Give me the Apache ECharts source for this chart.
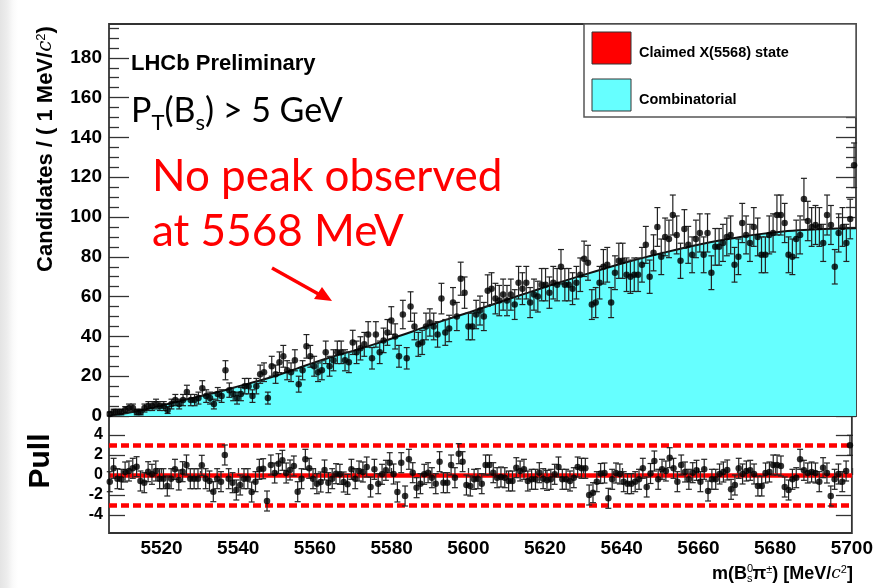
<!DOCTYPE html>
<html>
<head>
<meta charset="utf-8">
<script src="https://cdn.jsdelivr.net/npm/echarts@6/dist/echarts.min.js"></script>
<style>
html,body{margin:0;padding:0;}
body{width:876px;height:588px;background:linear-gradient(90deg,#e4e4e4 0px,#ededed 7px,#fafafa 13px,#ffffff 18px);}
#c{width:876px;height:588px;}
</style>
</head>
<body>
<div id="c"></div>
<script>
// ---------- data ----------
const binStart = 5506;      // lower edge of first 1 MeV bin
const binWidth = 1;
const counts = [
 1,2,2,2,3,4,4,2,2,4,5,5,6,5,5,3,6,8,6,8,12,8,8,9,14,10,9,6,11,10,23,13,11,9,11,15,15,10,15,21,22,9,25,21,27,30,23,22,28,16,23,35,30,25,22,23,32,25,28,32,32,28,27,37,32,
 34,36,41,29,41,32,38,42,48,40,30,51,29,55,45,36,37,45,47,45,41,59,42,44,57,50,69,62,45,45,51,53,50,63,64,59,58,61,58,61,56,67,64,67,57,61,60,66,66,62,67,66,75,66,66,64,67,71,79,77,56,57,67,75,76,
 57,72,78,78,71,70,71,71,76,86,70,82,95,80,90,89,101,91,78,94,86,81,89,92,81,92,72,85,85,87,90,91,76,80,97,91,87,95,90,81,81,91,92,101,101,97,81,80,89,91,109,98,95,96,95,87,101,96,75,92,95,87,99,126
];
const pulls = [
 -0.67,0.67,-0.37,-0.43,0.3,0.4,0.67,0.83,-0.6,-0.77,0.33,0.07,0.4,-0.37,-0.37,-1.1,-0.37,0.57,-0.5,0.33,1.0,-0.37,-0.37,-0.37,0.97,-0.37,-0.6,-1.67,-0.37,-0.67,2.0,-0.37,-0.77,-1.5,-1.0,-0.37,-0.37,-1.7,-0.67,0.57,0.63,-2.6,1.0,0.2,1.13,1.47,0.2,0.5,0.9,-1.67,
 -0.37,1.57,0.67,-0.37,-0.87,-0.7,0.5,-0.77,-0.37,0.13,0.07,-0.7,-0.93,0.57,-0.37,0.4,0.3,0.8,-1.2,0.57,-0.87,0.07,0.47,1.23,0.1,-1.7,1.23,-2.1,1.57,0.23,-1.27,-0.87,0.07,0.23,-0.27,-0.87,1.33,-0.77,-0.77,1.0,-0.27,2.13,1.33,-1.0,-1.1,-0.43,-0.37,-0.87,1.0,1.0,0.23,-0.27,-0.2,-0.27,-0.6,-0.6,0.73,0.4,0.57,-0.6,-0.43,-0.43,0.23,-0.37,-0.53,-0.43,0.07,0.8,-0.43,-0.43,-0.6,-0.27,
 0.8,0.67,0.67,-2.0,-1.77,-0.67,0.15,0.2,-2.33,-0.43,0.2,0.1,-0.67,-0.87,-0.87,-0.67,-0.43,0.67,-1.2,0.15,1.4,-0.43,0.57,0.4,1.73,0.67,-0.67,1.0,0.3,-0.43,0.23,0.47,-0.67,0.57,-1.6,-0.43,-0.43,0.1,0.3,0.5,-1.43,-1.0,0.67,0.1,0.4,0.47,0.1,-1.1,-1.1,0.2,0.3,1.0,1.0,0.9,-1.2,-1.5,-0.43,-0.27,1.57,0.47,0.2,0.3,0.2,-0.67,0.73,0.2,-2.1,-0.43,0.1,-0.67,0.4,2.97
];
const fitMass = [5506.3,5510,5515,5520,5525,5530,5535,5540,5545,5550,5555,5560,5565,5570,5575,5580,5585,5590,5595,5600,5605,5610,5615,5620,5625,5630,5635,5640,5645,5650,5655,5660,5665,5670,5675,5680,5685,5690,5695,5700];
const fitValue = [0,1.2,3,5.3,7.7,10.0,12.3,15,17.6,20.5,23.8,27.2,30.2,33,36,39.2,42.5,46,49.2,52.3,55.5,58.8,62,65.2,68.3,71.3,74.2,77,79.6,82,84.3,86.4,88.3,90,91.4,92.5,93.3,93.9,94.2,94.4];
const xTickLabels = [5520,5540,5560,5580,5600,5620,5640,5660,5680,5700];
const xMinorTicks = [5510,5530,5550,5570,5590,5610,5630,5650,5670,5690];
const yTickLabels = [0,20,40,60,80,100,120,140,160,180];
const yMinorTicks = [5,10,15,25,30,35,45,50,55,65,70,75,85,90,95,105,110,115,125,130,135,145,150,155,165,170,175,185,190,195];
const pullTickLabels = [-4,-2,0,2,4];
const pullBands = [0,3,-3];

// ---------- build ----------
const centers = counts.map((_, i) => binStart + binWidth * (i + 0.5));
const pts = counts.map((n, i) => [centers[i], n]);
const errs = counts.map((n, i) => [centers[i], Math.max(0, n - Math.sqrt(n)), n + Math.sqrt(n)]);
const pullPts = pulls.map((p, i) => [centers[i], p]);
const pullErrs = pulls.map((p, i) => [centers[i], p - 1, p + 1]);
const fitData = fitMass.map((m, i) => [m, fitValue[i]]);

const FONT = '"Liberation Sans", Arial, sans-serif';
const frameColor = '#333';

function errRender(params, api) {
  const x = api.value(0), lo = api.value(1), hi = api.value(2);
  const a = api.coord([x, hi]), b = api.coord([x, lo]);
  const w = 3;
  const st = {stroke: '#222', lineWidth: 1.2};
  return {type: 'group', children: [
    {type: 'line', shape: {x1: a[0], y1: a[1], x2: b[0], y2: b[1]}, style: st},
    {type: 'line', shape: {x1: a[0] - w, y1: a[1], x2: a[0] + w, y2: a[1]}, style: st},
    {type: 'line', shape: {x1: b[0] - w, y1: b[1], x2: b[0] + w, y2: b[1]}, style: st}
  ]};
}

const XMIN = 5506.3, XMAX = 5700;
const lblStyle = {fontFamily: FONT, fontWeight: 'bold', fontSize: 19, color: '#000'};
const plain = v => String(v);

const option = {
  backgroundColor: 'transparent',
  animation: false,
  grid: [
    {left: 109, top: 24, width: 747, height: 392, show: true, borderColor: frameColor, borderWidth: 1.8, backgroundColor: 'transparent'},
    {left: 109, top: 416, width: 747, height: 117, show: true, borderColor: frameColor, borderWidth: 1.8, backgroundColor: 'transparent'}
  ],
  xAxis: [
    {gridIndex: 0, type: 'value', min: XMIN, max: XMAX, axisLabel: {show: false}, axisTick: {show: false}, axisLine: {show: false}, splitLine: {show: false}},
    {gridIndex: 1, type: 'value', min: XMIN, max: XMAX, position: 'bottom',
      axisLabel: {show: true, customValues: xTickLabels, margin: 6, formatter: plain, ...lblStyle},
      axisTick: {show: true, inside: true, length: 7, customValues: xTickLabels, lineStyle: {color: frameColor, width: 1.3}},
      axisLine: {show: false}, splitLine: {show: false}},
    {gridIndex: 1, type: 'value', min: XMIN, max: XMAX, position: 'bottom',
      axisLabel: {show: false},
      axisTick: {show: true, inside: true, length: 4, customValues: xMinorTicks, lineStyle: {color: frameColor, width: 1.3}},
      axisLine: {show: false}, splitLine: {show: false}}
  ],
  yAxis: [
    {gridIndex: 0, type: 'value', min: 0, max: 197, position: 'left',
      axisLabel: {show: true, customValues: yTickLabels, margin: 7, formatter: plain, ...lblStyle},
      axisTick: {show: true, inside: true, length: 20, customValues: yTickLabels, lineStyle: {color: frameColor, width: 1.3}},
      axisLine: {show: false}, splitLine: {show: false}},
    {gridIndex: 0, type: 'value', min: 0, max: 197, position: 'left',
      axisLabel: {show: false},
      axisTick: {show: true, inside: true, length: 10, customValues: yMinorTicks, lineStyle: {color: frameColor, width: 1.3}},
      axisLine: {show: false}, splitLine: {show: false}},
    {gridIndex: 0, type: 'value', min: 0, max: 197, position: 'right',
      axisLabel: {show: false},
      axisTick: {show: true, inside: true, length: 20, customValues: yTickLabels, lineStyle: {color: frameColor, width: 1.3}},
      axisLine: {show: false}, splitLine: {show: false}},
    {gridIndex: 0, type: 'value', min: 0, max: 197, position: 'right',
      axisLabel: {show: false},
      axisTick: {show: true, inside: true, length: 10, customValues: yMinorTicks, lineStyle: {color: frameColor, width: 1.3}},
      axisLine: {show: false}, splitLine: {show: false}},
    {gridIndex: 1, type: 'value', min: -5.8, max: 5.9, position: 'left',
      axisLabel: {show: true, customValues: pullTickLabels, margin: 6, formatter: plain, fontFamily: FONT, fontWeight: 'bold', fontSize: 16, color: '#000'},
      axisTick: {show: true, inside: true, length: 16, customValues: pullTickLabels, lineStyle: {color: frameColor, width: 1.3}},
      axisLine: {show: false}, splitLine: {show: false}},
    {gridIndex: 1, type: 'value', min: -5.8, max: 5.9, position: 'right',
      axisLabel: {show: false},
      axisTick: {show: true, inside: true, length: 16, customValues: pullTickLabels, lineStyle: {color: frameColor, width: 1.3}},
      axisLine: {show: false}, splitLine: {show: false}}
  ],
  series: [
    {type: 'line', xAxisIndex: 0, yAxisIndex: 0, data: fitData, smooth: 0.4, showSymbol: false, z: 1,
      lineStyle: {color: '#111', width: 2}, areaStyle: {color: '#66ffff', opacity: 1}},
    {type: 'custom', xAxisIndex: 0, yAxisIndex: 0, data: errs, renderItem: errRender, z: 3},
    {type: 'scatter', xAxisIndex: 0, yAxisIndex: 0, data: pts, symbol: 'circle', symbolSize: 6.5, itemStyle: {color: '#000'}, z: 4},
    {type: 'custom', xAxisIndex: 1, yAxisIndex: 4, data: pullErrs, renderItem: errRender, z: 3,
      markLine: {silent: true, symbol: 'none', label: {show: false}, z: 2,
        data: pullBands.map(v => ({yAxis: v, lineStyle: {color: '#ff0000', width: 4.5, type: v === 0 ? 'solid' : [8, 4]}}))}},
    {type: 'scatter', xAxisIndex: 1, yAxisIndex: 4, data: pullPts, symbol: 'circle', symbolSize: 6.5, itemStyle: {color: '#000'}, z: 4}
  ],
  graphic: [
    // legend box
    {type: 'rect', shape: {x: 584, y: 24, width: 272, height: 93}, style: {fill: '#fff', stroke: '#555', lineWidth: 1.5}, z: 50},
    {type: 'rect', shape: {x: 592, y: 32, width: 39, height: 32}, style: {fill: '#ff0000', stroke: '#333', lineWidth: 1}, z: 51},
    {type: 'rect', shape: {x: 592, y: 79, width: 39, height: 32}, style: {fill: '#66ffff', stroke: '#333', lineWidth: 1}, z: 51},
    {type: 'text', x: 639, y: 53, z: 51, style: {text: 'Claimed X(5568) state', font: 'bold 14.5px ' + FONT, fill: '#000', textAlign: 'left', textVerticalAlign: 'middle'}},
    {type: 'text', x: 639, y: 100, z: 51, style: {text: 'Combinatorial', font: 'bold 14.5px ' + FONT, fill: '#000', textAlign: 'left', textVerticalAlign: 'middle'}},
    // annotations
    {type: 'text', x: 131, y: 64, z: 60, style: {text: 'LHCb Preliminary', font: 'bold 22px ' + FONT, fill: '#000', textAlign: 'left', textVerticalAlign: 'middle'}},
    {type: 'text', x: 131, y: 94, z: 60, style: {
      text: '{m|P}{s|T}{m|(B}{s|s}{m|) > 5 GeV}', textAlign: 'left', textVerticalAlign: 'top',
      rich: {m: {fontFamily: 'Lato', fontSize: 34, fill: '#000', lineHeight: 40, verticalAlign: 'top'},
             s: {fontFamily: 'Lato', fontSize: 22, fill: '#000', lineHeight: 40, verticalAlign: 'bottom', padding: [18, 0, 0, 0]}}}},
    {type: 'text', x: 152, y: 177, z: 60, style: {text: 'No peak observed', font: '44px Lato', fill: '#ff0000', textAlign: 'left', textVerticalAlign: 'middle'}},
    {type: 'text', x: 152, y: 232, z: 60, style: {text: 'at 5568 MeV', font: '44px Lato', fill: '#ff0000', textAlign: 'left', textVerticalAlign: 'middle'}},
    {type: 'line', shape: {x1: 272, y1: 268, x2: 322, y2: 296}, style: {stroke: '#ff0000', lineWidth: 3.5}, z: 60},
    {type: 'polygon', shape: {points: [[332, 301], [314, 299], [322, 287]]}, style: {fill: '#ff0000'}, z: 60},
    // axis titles
    {type: 'text', x: 46, y: 149, rotation: Math.PI / 2, z: 60, style: {
      text: '{b|Candidates / ( 1 MeV/}{i|c}{sup|2}{b|)}', textAlign: 'center', textVerticalAlign: 'middle',
      rich: {b: {fontFamily: FONT, fontWeight: 'bold', fontSize: 22, fill: '#000', lineHeight: 26},
             i: {fontFamily: 'DejaVu Serif', fontStyle: 'italic', fontSize: 20, fill: '#000', lineHeight: 26},
             sup: {fontFamily: FONT, fontSize: 13, fill: '#000', lineHeight: 26, padding: [0, 0, 9, 0]}}}},
    {type: 'text', x: 41, y: 461, rotation: Math.PI / 2, z: 60, style: {text: 'Pull', font: 'bold 30px ' + FONT, fill: '#000', textAlign: 'center', textVerticalAlign: 'middle'}},
    {type: 'text', x: 712, y: 574, z: 60, style: {
      text: '{b|m(B}{sub|s}{b|π}{sup|±}{b|) [MeV/}{i|c}{sup|2}{b|]}', textAlign: 'left', textVerticalAlign: 'middle',
      rich: {b: {fontFamily: FONT, fontWeight: 'bold', fontSize: 18, fill: '#000', lineHeight: 22},
             i: {fontFamily: 'DejaVu Serif', fontStyle: 'italic', fontSize: 17, fill: '#000', lineHeight: 22},
             sub: {fontFamily: FONT, fontSize: 11, fill: '#000', lineHeight: 22, padding: [9, 0, 0, 0]},
             sup: {fontFamily: FONT, fontSize: 11, fill: '#000', lineHeight: 22, padding: [0, 0, 8, 0]}}}},
    {type: 'text', x: 747, y: 569, z: 60, style: {text: '0', font: '11px ' + FONT, fill: '#000', textAlign: 'left', textVerticalAlign: 'middle'}}
  ]
};

const chart = echarts.init(document.getElementById('c'), null, {renderer: 'canvas'});
chart.setOption(option);
</script>
</body>
</html>
